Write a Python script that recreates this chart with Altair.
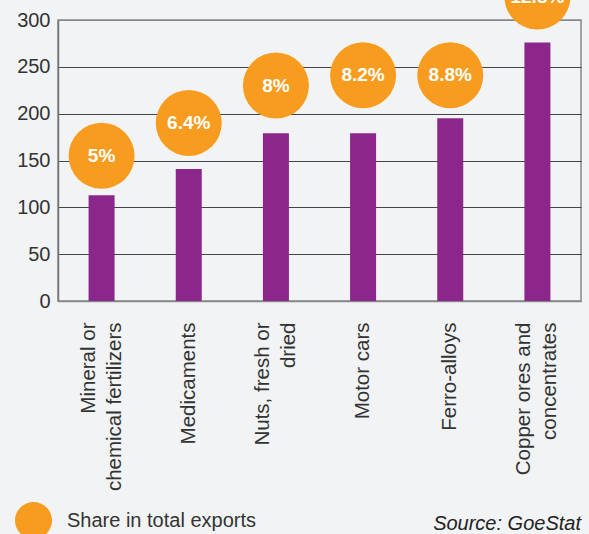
import altair as alt
import pandas as pd

categories = [
    "Mineral or|chemical fertilizers",
    "Medicaments",
    "Nuts, fresh or|dried",
    "Motor cars",
    "Ferro-alloys",
    "Copper ores and|concentrates",
]
export_values = [113, 141, 179, 179, 195, 276]
share_labels = ["5%", "6.4%", "8%", "8.2%", "8.8%", "12.8%"]
bubble_levels = [155, 190, 230, 241, 241, 325]
y_ticks = [0, 50, 100, 150, 200, 250, 300]
legend_name = "Share in total exports"
source_text = "Source: GoeStat"

PURPLE = "#8b268b"
ORANGE = "#f79c1f"
BG = "#f2f3f5"
FONT = "Liberation Sans"

df = pd.DataFrame({
    "category": categories,
    "value": export_values,
    "share": share_labels,
    "bubble": bubble_levels,
    "legend": [legend_name] * len(categories),
})

x_enc = alt.X(
    "category:N",
    sort=categories,
    scale=alt.Scale(paddingInner=0.7, paddingOuter=0.35),
    axis=alt.Axis(
        title=None,
        labelAngle=-90,
        labelAlign="right",
        labelBaseline="middle",
        labelExpr="split(datum.label, '|')",
        labelOffset={"condition": {"test": "indexof(datum.label, '|') >= 0", "value": -13}, "value": 0},
        labelFont=FONT,
        labelFontSize=20.5,
        labelColor="#333333",
        labelLineHeight=26,
        labelPadding=21,
        ticks=False,
        domainColor="#888888",
        domainWidth=1.5,
        grid=False,
        labelLimit=400,
    ),
)

bars = alt.Chart(df).mark_bar(color=PURPLE, size=26).encode(
    x=x_enc,
    y=alt.Y(
        "value:Q",
        scale=alt.Scale(domain=[0, 300], nice=False),
        axis=alt.Axis(
            title=None,
            values=y_ticks,
            ticks=False,
            labelFont=FONT,
            labelFontSize=20,
            labelColor="#333333",
            labelPadding=8,
            domainColor="#777777",
            domainWidth=1.5,
            gridColor={"condition": {"test": "datum.value === 300 || datum.value === 0", "value": "#888888"}, "value": "#444444"},
            gridWidth=1,
        ),
    ),
)

bubbles = alt.Chart(df).mark_circle(size=4356, opacity=1).encode(
    x=alt.X("category:N", sort=categories),
    y=alt.Y("bubble:Q"),
    color=alt.Color(
        "legend:N",
        scale=alt.Scale(domain=[legend_name], range=[ORANGE]),
        legend=alt.Legend(
            title=None,
            orient="none",
            legendX=-44,
            legendY=481,
            symbolSize=1369,
            symbolType="circle",
            symbolOpacity=1,
            labelFont=FONT,
            labelFontSize=20,
            labelColor="#333333",
            labelOffset=14,
            labelLimit=400,
            padding=0,
        ),
    ),
)

labels = alt.Chart(df).mark_text(
    color="white", font=FONT, fontWeight="bold", fontSize=19, baseline="middle", align="center"
).encode(
    x=alt.X("category:N", sort=categories),
    y=alt.Y("bubble:Q"),
    text="share:N",
)

chart = alt.layer(bars, bubbles, labels).properties(
    width=523,
    height=281,
    background=BG,
    padding={"left": 58, "top": 20, "right": 8, "bottom": 233},
    autosize=alt.AutoSizeParams(type="none"),
    title=alt.TitleParams(
        source_text,
        orient="bottom",
        anchor="end",
        font=FONT,
        fontSize=20,
        fontStyle="italic",
        fontWeight="normal",
        color="#222222",
        baseline="middle",
        offset=-15,
    ),
).configure_view(stroke="#888888", strokeWidth=1.5, fill=BG)

chart.save("out.html", embed_options={"renderer": "svg", "actions": False})
